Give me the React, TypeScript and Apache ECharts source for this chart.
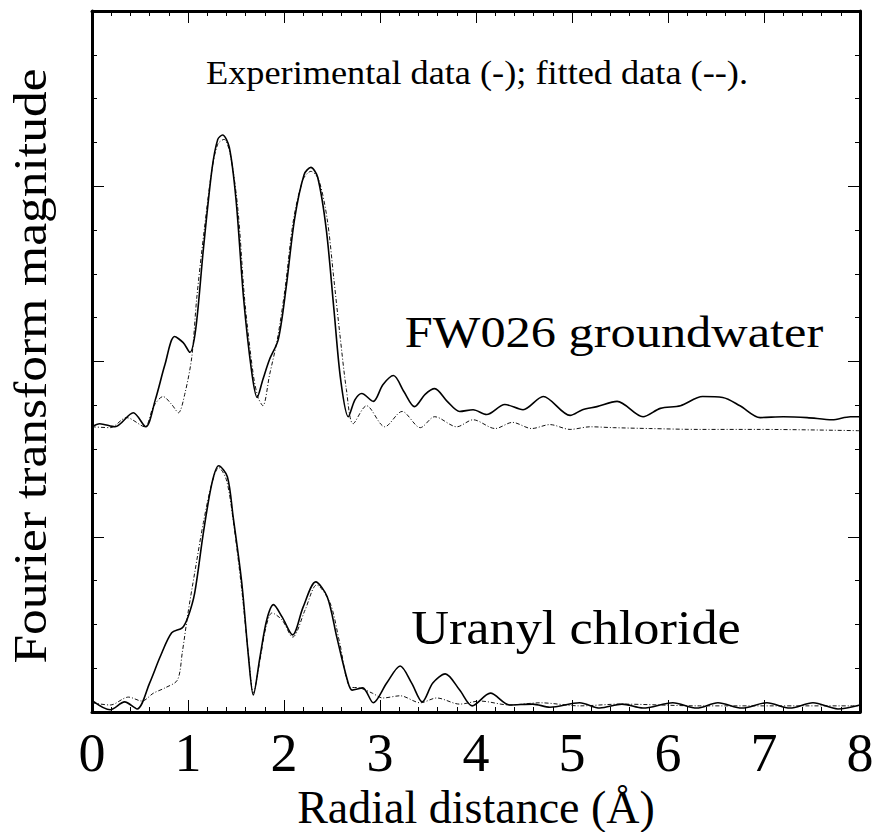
import React, { useEffect, useRef } from "react";
import * as echarts from "echarts";

// FW026 groundwater – experimental (solid)
const fwExperimental: [number, number][] = [
  [0, 6.51], [0.08, 6.58], [0.24, 6.51], [0.43, 6.83], [0.56, 6.51], [0.66, 7.13],
  [0.76, 7.93], [0.86, 8.57], [0.95, 8.43], [1.02, 8.21], [1.08, 8.73], [1.16, 10.56],
  [1.25, 12.39], [1.31, 13.07], [1.36, 13.17], [1.43, 12.89], [1.5, 11.7], [1.58, 9.42],
  [1.66, 7.82], [1.72, 7.18], [1.78, 7.59], [1.85, 8.05], [1.94, 8.5], [2.02, 9.65],
  [2.11, 11.25], [2.21, 12.27], [2.28, 12.43], [2.35, 12.21], [2.44, 11.02], [2.52, 9.19],
  [2.59, 7.59], [2.67, 6.74], [2.74, 7.13], [2.81, 7.27], [2.93, 7.09], [3.03, 7.47],
  [3.14, 7.68], [3.25, 7.31], [3.36, 6.97], [3.47, 7.25], [3.57, 7.38], [3.7, 7.09],
  [3.83, 6.86], [3.97, 6.9], [4.11, 6.79], [4.3, 7.02], [4.49, 6.9], [4.7, 7.2],
  [4.98, 6.77], [5.11, 6.9], [5.26, 6.97], [5.47, 7.09], [5.74, 6.74], [5.92, 6.93],
  [6.13, 6.99], [6.36, 7.2], [6.57, 7.18], [6.75, 6.99], [6.96, 6.72], [7.2, 6.74],
  [7.45, 6.72], [7.71, 6.67], [7.9, 6.74], [8, 6.74],
];

// FW026 groundwater – fitted (dash-dot)
const fwFitted: [number, number][] = [
  [0, 6.51], [0.19, 6.49], [0.36, 6.72], [0.55, 6.51], [0.64, 6.97], [0.74, 7.2],
  [0.83, 7.02], [0.9, 6.83], [0.97, 7.29], [1.04, 8.11], [1.09, 9.42], [1.17, 11.02],
  [1.25, 12.39], [1.31, 12.96], [1.375, 13.07], [1.44, 12.73], [1.52, 11.47], [1.59, 9.42],
  [1.68, 7.7], [1.73, 7.18], [1.78, 6.99], [1.85, 7.7], [1.93, 8.5], [2.01, 9.65],
  [2.1, 11.25], [2.2, 12.16], [2.28, 12.34], [2.36, 12.16], [2.45, 11.25], [2.52, 9.87],
  [2.58, 8.66], [2.65, 7.36], [2.72, 6.58], [2.86, 6.99], [3.05, 6.51], [3.23, 6.86],
  [3.42, 6.49], [3.57, 6.74], [3.8, 6.51], [3.97, 6.67], [4.2, 6.47], [4.38, 6.61],
  [4.58, 6.47], [4.77, 6.56], [4.98, 6.45], [5.19, 6.51], [5.43, 6.49], [5.81, 6.47],
  [6.33, 6.45], [6.96, 6.45], [8, 6.42],
];

// Uranyl chloride – experimental (solid)
const ucExperimental: [number, number][] = [
  [0.01, 0.25], [0.19, 0.05], [0.34, 0.23], [0.47, 0.07], [0.6, 0.66], [0.71, 1.26],
  [0.83, 1.81], [0.94, 1.92], [1.0, 2.17], [1.07, 2.72], [1.16, 4.09], [1.25, 5.23],
  [1.32, 5.62], [1.41, 5.37], [1.47, 4.46], [1.56, 2.95], [1.63, 1.26], [1.68, 0.39],
  [1.75, 1.26], [1.82, 2.1], [1.89, 2.45], [1.98, 2.17], [2.09, 1.76], [2.2, 2.4],
  [2.33, 2.97], [2.45, 2.63], [2.55, 1.71], [2.66, 0.73], [2.71, 0.5], [2.82, 0.55],
  [2.93, 0.21], [3.07, 0.66], [3.21, 1.05], [3.33, 0.66], [3.44, 0.23], [3.55, 0.66],
  [3.68, 0.87], [3.83, 0.5], [3.96, 0.14], [4.15, 0.43], [4.35, 0.16], [4.59, 0.18],
  [4.77, 0.11], [5.08, 0.21], [5.29, 0.09], [5.52, 0.18], [5.74, 0.09], [6.05, 0.21],
  [6.3, 0.09], [6.52, 0.21], [6.77, 0.09], [7.03, 0.21], [7.27, 0.09], [7.51, 0.21],
  [7.77, 0.07], [8, 0.16],
];

// Uranyl chloride – fitted (dash-dot)
const ucFitted: [number, number][] = [
  [0, 0.21], [0.19, 0.16], [0.38, 0.34], [0.52, 0.25], [0.64, 0.43], [0.76, 0.55],
  [0.89, 0.73], [0.94, 1.35], [1.0, 2.26], [1.07, 3.18], [1.16, 4.32], [1.25, 5.23],
  [1.32, 5.58], [1.4, 5.3], [1.47, 4.39], [1.56, 2.79], [1.63, 1.3], [1.68, 0.43],
  [1.75, 1.19], [1.81, 1.92], [1.875, 2.26], [1.98, 2.1], [2.09, 1.71], [2.22, 2.33],
  [2.34, 2.9], [2.48, 2.49], [2.58, 1.58], [2.69, 0.57], [2.79, 0.55], [2.92, 0.43],
  [3.03, 0.32], [3.21, 0.37], [3.42, 0.21], [3.59, 0.32], [3.83, 0.18], [4.04, 0.25],
  [4.35, 0.16], [4.67, 0.21], [5.08, 0.14], [5.5, 0.18], [6.33, 0.14], [7.17, 0.14],
  [8, 0.14],
];

const xTickLabels = ["0", "1", "2", "3", "4", "5", "6", "7", "8"];

const SERIF = "'Liberation Serif', 'Times New Roman', Times, serif";

export default function App() {
  const ref = useRef<HTMLDivElement>(null);

  useEffect(() => {
    if (!ref.current) return;
    const chart = echarts.init(ref.current, undefined, { renderer: "svg" });

    const frameLine = { show: true, onZero: false, lineStyle: { color: "#000", width: 3 } };
    const majorTick = { show: true, inside: true, length: 12, lineStyle: { color: "#000", width: 1 } };
    const minorTickX = { show: true, splitNumber: 5, length: 5, lineStyle: { color: "#000", width: 1 } };
    const minorTickY = { show: true, splitNumber: 4, length: 5, lineStyle: { color: "#000", width: 1 } };

    const solidStyle = { color: "#000", width: 1.6, type: "solid" as const };
    const fitStyle = { color: "#111", width: 1, type: [4, 2, 1, 2] as any };

    chart.setOption({
      animation: false,
      backgroundColor: "#fff",
      grid: {
        left: 92,
        right: 20,
        top: 11,
        bottom: 120,
        containLabel: false,
        outerBoundsMode: "none",
      },
      xAxis: [
        {
          type: "value",
          position: "bottom",
          min: 0,
          max: 8,
          interval: 1,
          axisLine: frameLine,
          axisTick: majorTick,
          minorTick: minorTickX,
          splitLine: { show: false },
          minorSplitLine: { show: false },
          axisLabel: {
            show: true,
            margin: 14,
            fontFamily: SERIF,
            fontSize: 54,
            color: "#000",
            formatter: (v: number) => xTickLabels[Math.round(v)] ?? "",
          },
          name: "Radial distance (Å)",
          nameLocation: "middle",
          nameGap: 57,
          nameTextStyle: { fontFamily: SERIF, fontSize: 46, color: "#000" },
        },
        {
          type: "value",
          position: "top",
          min: 0,
          max: 8,
          interval: 1,
          axisLine: frameLine,
          axisTick: majorTick,
          minorTick: minorTickX,
          splitLine: { show: false },
          axisLabel: { show: false },
        },
      ],
      yAxis: [
        {
          type: "value",
          position: "left",
          min: 0,
          max: 16,
          interval: 4,
          axisLine: frameLine,
          axisTick: majorTick,
          minorTick: minorTickY,
          splitLine: { show: false },
          axisLabel: { show: false },
        },
        {
          type: "value",
          position: "right",
          min: 0,
          max: 16,
          interval: 4,
          axisLine: frameLine,
          axisTick: majorTick,
          minorTick: minorTickY,
          splitLine: { show: false },
          axisLabel: { show: false },
        },
      ],
      series: [
        {
          name: "FW026 fitted",
          type: "line",
          data: fwFitted,
          showSymbol: false,
          smooth: 0.3,
          lineStyle: fitStyle,
          z: 2,
        },
        {
          name: "FW026 experimental",
          type: "line",
          data: fwExperimental,
          showSymbol: false,
          smooth: 0.3,
          lineStyle: solidStyle,
          z: 3,
        },
        {
          name: "Uranyl chloride fitted",
          type: "line",
          data: ucFitted,
          showSymbol: false,
          smooth: 0.3,
          lineStyle: fitStyle,
          z: 2,
        },
        {
          name: "Uranyl chloride experimental",
          type: "line",
          data: ucExperimental,
          showSymbol: false,
          smooth: 0.3,
          lineStyle: solidStyle,
          z: 3,
        },
      ],
      graphic: [
        {
          type: "text",
          x: 30,
          y: 366,
          rotation: Math.PI / 2,
          scaleX: 1.12,
          style: {
            text: "Fourier transform magnitude",
            fontFamily: SERIF,
            fontSize: 46,
            fill: "#000",
            align: "center",
            verticalAlign: "middle",
          },
        },
        {
          type: "text",
          x: 477,
          y: 73,
          scaleX: 1.1,
          style: {
            text: "Experimental data (-); fitted data (--).",
            fontFamily: SERIF,
            fontSize: 33,
            fill: "#000",
            align: "center",
            verticalAlign: "middle",
          },
        },
        {
          type: "text",
          x: 614,
          y: 331,
          scaleX: 1.12,
          style: {
            text: "FW026 groundwater",
            fontFamily: SERIF,
            fontSize: 45,
            fill: "#000",
            align: "center",
            verticalAlign: "middle",
          },
        },
        {
          type: "text",
          x: 576,
          y: 628,
          scaleX: 1.09,
          style: {
            text: "Uranyl chloride",
            fontFamily: SERIF,
            fontSize: 48,
            fill: "#000",
            align: "center",
            verticalAlign: "middle",
          },
        },
      ],
    });

    return () => chart.dispose();
  }, []);

  return (
    <div
      ref={ref}
      style={{ position: "fixed", left: 0, top: 0, width: 880, height: 832, background: "#fff" }}
    />
  );
}
